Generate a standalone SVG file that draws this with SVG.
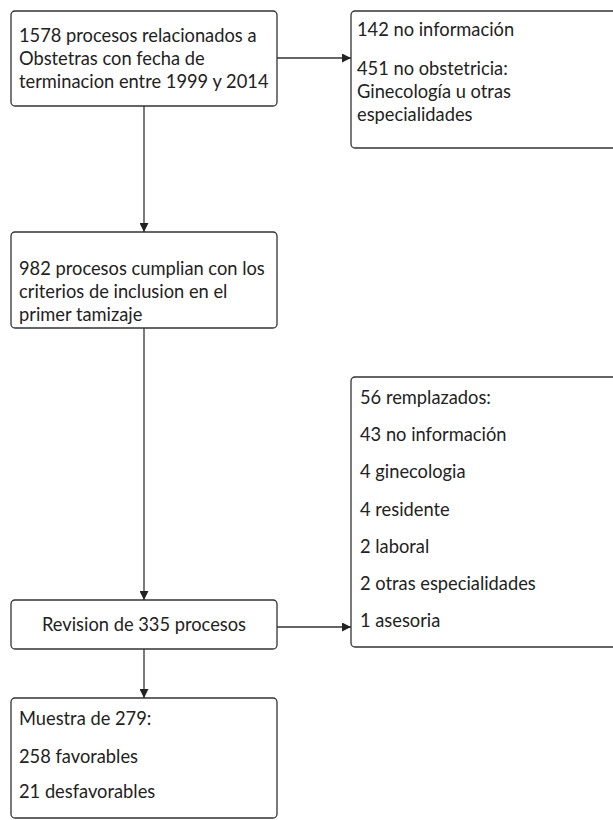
<svg xmlns="http://www.w3.org/2000/svg" width="613" height="820" viewBox="0 0 613 820">
<defs>
<style>
.box{fill:#fff;stroke:#333;stroke-width:1.3}
.t{font-family:Lato,"Open Sans","Liberation Sans",sans-serif;font-size:18.3px;fill:#222}
.c{fill:none;stroke:#333;stroke-width:1.3}
</style>
<marker id="ah" viewBox="0 0 10 10" refX="10" refY="5" markerWidth="10" markerHeight="9" markerUnits="userSpaceOnUse" orient="auto">
<path d="M0,0 L10,5 L0,10 Z" fill="#222"/>
</marker>
</defs>
<rect width="613" height="820" fill="#fff"/>
<g id="connectors">
<line class="c" x1="277" y1="58" x2="351" y2="58" marker-end="url(#ah)"/>
<line class="c" x1="144" y1="106" x2="144" y2="232" marker-end="url(#ah)"/>
<line class="c" x1="144" y1="328" x2="144" y2="600" marker-end="url(#ah)"/>
<line class="c" x1="277" y1="627" x2="351" y2="627" marker-end="url(#ah)"/>
<line class="c" x1="144" y1="649" x2="144" y2="698" marker-end="url(#ah)"/>
</g>
<g id="n1">
<rect class="box" x="11" y="11" width="266" height="95" rx="4"/>
<text class="t" x="19" y="42">1578 procesos relacionados a</text>
<text class="t" x="19" y="65">Obstetras con fecha de</text>
<text class="t" x="19" y="88">terminacion entre 1999 y 2014</text>
</g>
<g id="n2">
<rect class="box" x="351" y="11" width="280" height="137" rx="4"/>
<text class="t" x="357" y="36">142 no información</text>
<text class="t" x="357" y="75">451 no obstetricia:</text>
<text class="t" x="357" y="98">Ginecología u otras</text>
<text class="t" x="357" y="121">especialidades</text>
</g>
<g id="n3">
<rect class="box" x="11" y="232" width="266" height="96" rx="4"/>
<text class="t" x="19" y="275">982 procesos cumplian con los</text>
<text class="t" x="19" y="298">criterios de inclusion en el</text>
<text class="t" x="19" y="321">primer tamizaje</text>
</g>
<g id="n4">
<rect class="box" x="351" y="377" width="280" height="270" rx="4"/>
<text class="t" x="360" y="404">56 remplazados:</text>
<text class="t" x="360" y="441">43 no información</text>
<text class="t" x="360" y="478">4 ginecologia</text>
<text class="t" x="360" y="516">4 residente</text>
<text class="t" x="360" y="553">2 laboral</text>
<text class="t" x="360" y="590">2 otras especialidades</text>
<text class="t" x="360" y="627">1 asesoria</text>
</g>
<g id="n5">
<rect class="box" x="11" y="600" width="266" height="49" rx="4"/>
<text class="t" x="144" y="631" text-anchor="middle">Revision de 335 procesos</text>
</g>
<g id="n6">
<rect class="box" x="11" y="698" width="266" height="120" rx="4"/>
<text class="t" x="19" y="725">Muestra de 279:</text>
<text class="t" x="19" y="763">258 favorables</text>
<text class="t" x="19" y="798">21 desfavorables</text>
</g>
</svg>
